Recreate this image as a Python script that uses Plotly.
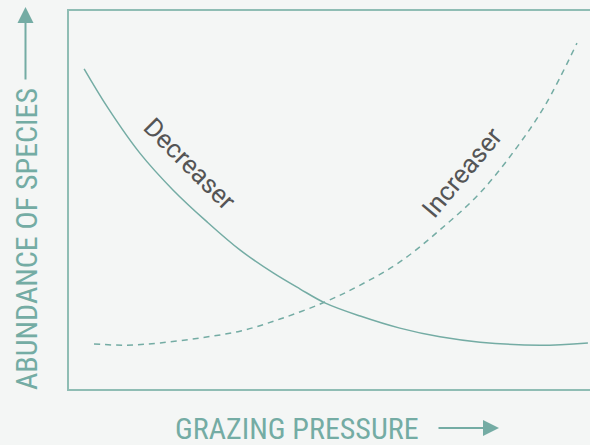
import plotly.graph_objects as go

# Data (x: grazing pressure 0-100, y: abundance 0-100)
decreaser_x = [2.9, 7.5, 13.6, 20.0, 26.5, 32.8, 39.2, 44.3, 49.1, 55.9, 63.5, 71.2, 78.9, 90.4, 99.6]
decreaser_y = [84.7, 74.3, 62.4, 52.6, 44.2, 36.8, 30.7, 26.5, 22.8, 19.3, 16.1, 13.8, 12.4, 11.6, 12.2]

increaser_x = [4.8, 11.1, 17.5, 25.1, 32.8, 40.5, 49.1, 55.9, 63.5, 71.2, 78.9, 86.0, 91.4, 97.5]
increaser_y = [11.9, 11.6, 12.2, 13.5, 15.3, 18.5, 23.0, 27.5, 33.6, 42.1, 51.9, 64.0, 75.1, 91.5]

curve_labels = ["Decreaser", "Increaser"]
label_x = [23.2, 75.5]
label_y = [59.5, 57.4]
label_angle = [45, -50]

x_title = "GRAZING PRESSURE"
y_title = "ABUNDANCE OF SPECIES"

TEAL = "#74aca4"
FRAME = "#8fbdb4"
BG = "#f4f6f5"
DARK = "#555555"
COND = "'Liberation Sans Narrow', 'Roboto Condensed', 'Arial Narrow', Roboto, sans-serif"

fig = go.Figure()
fig.add_trace(go.Scatter(x=decreaser_x, y=decreaser_y, mode="lines",
                         line=dict(color=TEAL, width=1.5, shape="spline", smoothing=1.0),
                         hoverinfo="skip", showlegend=False))
fig.add_trace(go.Scatter(x=increaser_x, y=increaser_y, mode="lines",
                         line=dict(color=TEAL, width=1.5, dash="6px,5px", shape="spline", smoothing=1.0),
                         hoverinfo="skip", showlegend=False))

for t, xx, yy, a in zip(curve_labels, label_x, label_y, label_angle):
    fig.add_annotation(x=xx, y=yy, xref="x", yref="y", text=t, showarrow=False,
                       textangle=a, font=dict(family="Roboto, sans-serif", size=26, color=DARK))

# axis titles
fig.add_annotation(x=(297 - 69) / 521, y=(389 - 428) / 378, xref="paper", yref="paper",
                   text=x_title, showarrow=False, xanchor="center", yanchor="middle", borderpad=0,
                   font=dict(family=COND, size=30, color=TEAL))
fig.add_annotation(x=(26 - 69) / 521, y=(389 - 239) / 378, xref="paper", yref="paper",
                   text=y_title, showarrow=False, textangle=-90, xanchor="center", yanchor="middle",
                   font=dict(family=COND, size=30, color=TEAL))

# arrows
fig.add_annotation(x=(499 - 69) / 521, y=(389 - 428) / 378, xref="paper", yref="paper",
                   ax=-62, ay=0, text="", showarrow=True, arrowhead=2, arrowsize=1.6,
                   arrowwidth=2, arrowcolor=TEAL)
fig.add_annotation(x=(25.5 - 69) / 521, y=(389 - 7) / 378, xref="paper", yref="paper",
                   ax=0, ay=74, text="", showarrow=True, arrowhead=2, arrowsize=1.6,
                   arrowwidth=2, arrowcolor=TEAL)

fig.update_layout(
    width=590, height=445,
    margin=dict(l=69, r=0, t=11, b=56),
    paper_bgcolor=BG, plot_bgcolor=BG,
    xaxis=dict(range=[0, 100], showgrid=False, zeroline=False, showticklabels=False,
               ticks="", showline=True, mirror=True, linecolor=FRAME, linewidth=2, fixedrange=True),
    yaxis=dict(range=[0, 100], showgrid=False, zeroline=False, showticklabels=False,
               ticks="", showline=True, mirror=False, linecolor=FRAME, linewidth=2, fixedrange=True),
)

fig.write_html("out.html", config={"displayModeBar": False},
               post_script="document.body.style.margin='0';document.body.style.background='" + BG + "';")
